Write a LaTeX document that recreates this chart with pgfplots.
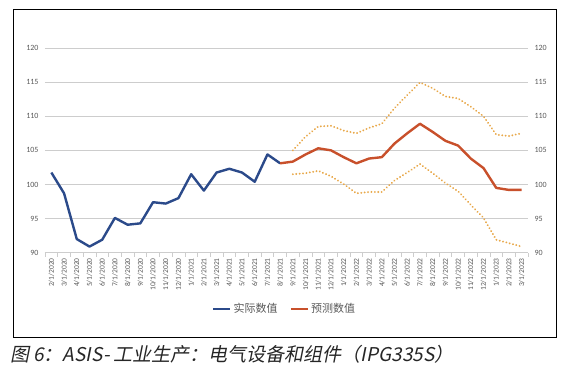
\documentclass[border=0pt]{standalone}
\usepackage{fontspec}
\setmainfont{Carlito}
\newfontfamily\cjk{Noto Sans CJK SC}
\newfontfamily\cjkit[FakeSlant=0.2]{Noto Sans CJK SC}
\usepackage{pgfplots}
\pgfplotsset{compat=1.18}
\definecolor{actblue}{HTML}{2B4A8A}
\definecolor{predorange}{HTML}{C8502B}
\definecolor{bandgold}{HTML}{E8A84A}
\definecolor{gridgray}{HTML}{CDCDCD}
\definecolor{labelgray}{HTML}{595959}
\begin{document}
\begin{tikzpicture}
\useasboundingbox (0,0) rectangle (574pt,-372pt);
\draw[black, line width=0.8pt] (13pt,-9.5pt) rectangle (556.5pt,-337.5pt);
\begin{axis}[
  at={(45pt,-252.7pt)}, anchor=south west,
  scale only axis, width=483pt, height=204.7pt,
  xmin=-0.5, xmax=37.5, ymin=90, ymax=120,
  ytick={90,95,...,120},
  ymajorgrids, grid style={draw=gridgray, line width=0.9pt},
  axis x line*=bottom, axis y line*=left,
  x axis line style={draw=gridgray, line width=0.9pt, -},
  y axis line style={draw=none},
  major tick length=0pt,
  minor tick length=4pt,
  tick align=outside,
  xtick={0,...,37},
  minor xtick={-0.5,0.5,...,37.5},
  xtick style={draw=gridgray, line width=0.6pt},
  ytick style={draw=none},
  xticklabels={2/1/2020,3/1/2020,4/1/2020,5/1/2020,6/1/2020,7/1/2020,8/1/2020,9/1/2020,10/1/2020,11/1/2020,12/1/2020,1/1/2021,2/1/2021,3/1/2021,4/1/2021,5/1/2021,6/1/2021,7/1/2021,8/1/2021,9/1/2021,10/1/2021,11/1/2021,12/1/2021,1/1/2022,2/1/2022,3/1/2022,4/1/2022,5/1/2022,6/1/2022,7/1/2022,8/1/2022,9/1/2022,10/1/2022,11/1/2022,12/1/2022,1/1/2023,2/1/2023,3/1/2023},
  xticklabel style={rotate=90, anchor=east, font=\fontsize{7.5}{8}\selectfont, text=labelgray, xshift=-2pt},
  yticklabel style={font=\fontsize{8}{9}\selectfont, text=labelgray, xshift=-3pt},
  /pgf/number format/assume math mode=true,
  legend style={at={(0.496,-0.275)}, anchor=center, draw=none, fill=none,
    legend columns=2, font=\cjk\fontsize{11}{12}\selectfont, text=labelgray,
    /tikz/every even column/.append style={column sep=10pt}},
]
\addplot[actblue, line width=2.4pt, line join=round] coordinates {
(0,101.75) (1,98.7) (2,92.0) (3,90.9) (4,91.9) (5,95.1) (6,94.1) (7,94.3)
(8,97.4) (9,97.2) (10,98.0) (11,101.5) (12,99.1) (13,101.75) (14,102.3)
(15,101.75) (16,100.4) (17,104.4) (18,103.1)};
\addlegendentry{实际数值}
\addplot[predorange, line width=2.4pt, line join=round] coordinates {
(18,103.1) (19,103.35) (20,104.4) (21,105.3) (22,105.0) (23,104.0) (24,103.1)
(25,103.8) (26,104.0) (27,106.0) (28,107.5) (29,108.9) (30,107.7) (31,106.4)
(32,105.7) (33,103.8) (34,102.4) (35,99.5) (36,99.2) (37,99.2)};
\addlegendentry{预测数值}
\addplot[forget plot, bandgold, line width=2.1pt, line cap=round, dash pattern=on 0.01pt off 3.4pt] coordinates {
(19,105.0) (20,107.0) (21,108.5) (22,108.6) (23,107.9) (24,107.5) (25,108.3)
(26,108.9) (27,111.2) (28,113.1) (29,114.95) (30,114.1) (31,112.9) (32,112.6)
(33,111.4) (34,110.0) (35,107.3) (36,107.1) (37,107.5)};
\addplot[forget plot, bandgold, line width=2.1pt, line cap=round, dash pattern=on 0.01pt off 3.4pt] coordinates {
(19,101.5) (20,101.65) (21,102.0) (22,101.2) (23,100.05) (24,98.7) (25,98.9)
(26,98.9) (27,100.6) (28,101.75) (29,103.0) (30,101.65) (31,100.2) (32,99.0)
(33,97.0) (34,95.1) (35,91.9) (36,91.4) (37,90.9)};
\end{axis}
\begin{axis}[
  at={(45pt,-252.7pt)}, anchor=south west,
  scale only axis, width=483pt, height=204.7pt,
  xmin=-0.5, xmax=37.5, ymin=90, ymax=120,
  ytick={90,95,...,120},
  axis x line=none, axis y line*=right,
  y axis line style={draw=none},
  major tick length=0pt, ytick style={draw=none},
  yticklabel style={font=\fontsize{8}{9}\selectfont, text=labelgray, xshift=3pt},
  /pgf/number format/assume math mode=true,
]
\addplot[draw=none] coordinates {(0,100)};
\end{axis}
\node[anchor=west, inner sep=0pt, text=black!85] at (10pt,-354.5pt) {\cjkit\fontsize{19}{20}\selectfont 图 6：ASIS- 工业生产：电气设备和组件（IPG335S）};
\end{tikzpicture}
\end{document}
